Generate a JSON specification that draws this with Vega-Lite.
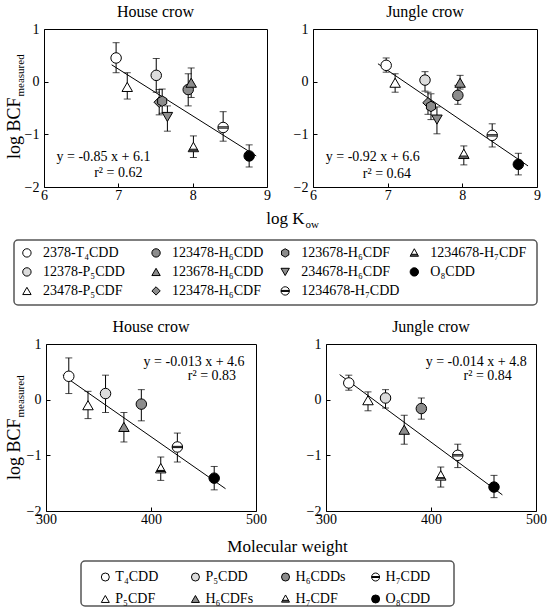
{
  "$schema": "https://vega.github.io/schema/vega-lite/v6.json",
  "padding": {"left": 4, "top": 3, "right": 0, "bottom": 0},
  "datasets": {
    "pts": [
      {"panel":"HK","sym":"a_open_circle","x":6.97,"y":0.45,"lo":0.17,"hi":0.74},
      {"panel":"HK","sym":"c_open_triangle","x":7.12,"y":-0.1,"lo":-0.33,"hi":0.17},
      {"panel":"HK","sym":"b_light_circle","x":7.51,"y":0.12,"lo":-0.2,"hi":0.44},
      {"panel":"HK","sym":"f_gray_diamond","x":7.55,"y":-0.39,"lo":-0.63,"hi":-0.15},
      {"panel":"HK","sym":"g_gray_hexagon","x":7.59,"y":-0.37,"lo":-0.6,"hi":-0.14},
      {"panel":"HK","sym":"h_gray_triangle_down","x":7.66,"y":-0.67,"lo":-0.94,"hi":-0.46},
      {"panel":"HK","sym":"d_gray_circle","x":7.94,"y":-0.15,"lo":-0.46,"hi":0.15},
      {"panel":"HK","sym":"e_gray_triangle","x":7.98,"y":-0.02,"lo":-0.3,"hi":0.26},
      {"panel":"HK","sym":"j_barred_triangle","x":8.01,"y":-1.25,"lo":-1.44,"hi":-1.03},
      {"panel":"HK","sym":"i_barred_circle","x":8.41,"y":-0.87,"lo":-1.13,"hi":-0.57},
      {"panel":"HK","sym":"k_black_circle","x":8.76,"y":-1.41,"lo":-1.62,"hi":-1.2},
      {"panel":"JK","sym":"a_open_circle","x":6.98,"y":0.31,"lo":0.18,"hi":0.45},
      {"panel":"JK","sym":"c_open_triangle","x":7.1,"y":-0.02,"lo":-0.2,"hi":0.15},
      {"panel":"JK","sym":"b_light_circle","x":7.5,"y":0.03,"lo":-0.18,"hi":0.19},
      {"panel":"JK","sym":"f_gray_diamond","x":7.54,"y":-0.4,"lo":-0.62,"hi":-0.2},
      {"panel":"JK","sym":"g_gray_hexagon","x":7.58,"y":-0.47,"lo":-0.72,"hi":-0.23},
      {"panel":"JK","sym":"h_gray_triangle_down","x":7.66,"y":-0.72,"lo":-0.99,"hi":-0.48},
      {"panel":"JK","sym":"d_gray_circle","x":7.94,"y":-0.26,"lo":-0.43,"hi":-0.07},
      {"panel":"JK","sym":"e_gray_triangle","x":7.97,"y":-0.02,"lo":-0.14,"hi":0.12},
      {"panel":"JK","sym":"j_barred_triangle","x":8.02,"y":-1.38,"lo":-1.58,"hi":-1.22},
      {"panel":"JK","sym":"i_barred_circle","x":8.4,"y":-1.02,"lo":-1.24,"hi":-0.8},
      {"panel":"JK","sym":"k_black_circle","x":8.75,"y":-1.57,"lo":-1.77,"hi":-1.36},
      {"panel":"HM","sym":"a_open_circle","x":321.7,"y":0.42,"lo":0.11,"hi":0.75},
      {"panel":"HM","sym":"c_open_triangle","x":340,"y":-0.1,"lo":-0.34,"hi":0.15},
      {"panel":"HM","sym":"b_light_circle","x":356.7,"y":0.11,"lo":-0.23,"hi":0.44},
      {"panel":"HM","sym":"e_gray_triangle","x":374.2,"y":-0.49,"lo":-0.76,"hi":-0.23},
      {"panel":"HM","sym":"d_gray_circle","x":390.8,"y":-0.08,"lo":-0.38,"hi":0.18},
      {"panel":"HM","sym":"j_barred_triangle","x":409.3,"y":-1.24,"lo":-1.45,"hi":-1.03},
      {"panel":"HM","sym":"i_barred_circle","x":425.1,"y":-0.85,"lo":-1.12,"hi":-0.6},
      {"panel":"HM","sym":"k_black_circle","x":460.2,"y":-1.41,"lo":-1.62,"hi":-1.2},
      {"panel":"JM","sym":"a_open_circle","x":321.7,"y":0.3,"lo":0.17,"hi":0.44},
      {"panel":"JM","sym":"c_open_triangle","x":340,"y":-0.01,"lo":-0.2,"hi":0.14},
      {"panel":"JM","sym":"b_light_circle","x":356.7,"y":0.03,"lo":-0.15,"hi":0.18},
      {"panel":"JM","sym":"e_gray_triangle","x":374.5,"y":-0.54,"lo":-0.8,"hi":-0.28},
      {"panel":"JM","sym":"d_gray_circle","x":390.8,"y":-0.16,"lo":-0.35,"hi":0.03},
      {"panel":"JM","sym":"j_barred_triangle","x":409.3,"y":-1.37,"lo":-1.57,"hi":-1.21},
      {"panel":"JM","sym":"i_barred_circle","x":425.5,"y":-1.0,"lo":-1.22,"hi":-0.8},
      {"panel":"JM","sym":"k_black_circle","x":460,"y":-1.57,"lo":-1.76,"hi":-1.36}
    ],
    "lines": [
      {"panel":"HK","x":6.91,"y":0.32},{"panel":"HK","x":8.855,"y":-1.41},
      {"panel":"JK","x":6.87,"y":0.34},{"panel":"JK","x":8.88,"y":-1.6},
      {"panel":"HM","x":316,"y":0.44},{"panel":"HM","x":471,"y":-1.6},
      {"panel":"JM","x":313,"y":0.45},{"panel":"JM","x":468,"y":-1.71}
    ],
    "eqs": [
      {"panel":"HK","x":6.8,"y":-1.43,"label":"y = -0.85 x + 6.1"},
      {"panel":"HK","x":7.0,"y":-1.74,"label":"r² = 0.62"},
      {"panel":"JK","x":6.8,"y":-1.43,"label":"y = -0.92 x + 6.6"},
      {"panel":"JK","x":6.99,"y":-1.76,"label":"r² = 0.64"},
      {"panel":"HM","x":441,"y":0.675,"label":"y = -0.013 x + 4.6"},
      {"panel":"HM","x":458,"y":0.42,"label":"r² = 0.83"},
      {"panel":"JM","x":443,"y":0.675,"label":"y = -0.014 x + 4.8"},
      {"panel":"JM","x":454,"y":0.42,"label":"r² = 0.84"}
    ],
    "leg1": [
      {"col":1,"row":1,"sym":"a_open_circle","label":"2378-T₄CDD"},
      {"col":1,"row":2,"sym":"b_light_circle","label":"12378-P₅CDD"},
      {"col":1,"row":3,"sym":"c_open_triangle","label":"23478-P₅CDF"},
      {"col":2,"row":1,"sym":"d_gray_circle","label":"123478-H₆CDD"},
      {"col":2,"row":2,"sym":"e_gray_triangle","label":"123678-H₆CDD"},
      {"col":2,"row":3,"sym":"f_gray_diamond","label":"123478-H₆CDF"},
      {"col":3,"row":1,"sym":"g_gray_hexagon","label":"123678-H₆CDF"},
      {"col":3,"row":2,"sym":"h_gray_triangle_down","label":"234678-H₆CDF"},
      {"col":3,"row":3,"sym":"i_barred_circle","label":"1234678-H₇CDD"},
      {"col":4,"row":1,"sym":"j_barred_triangle","label":"1234678-H₇CDF"},
      {"col":4,"row":2,"sym":"k_black_circle","label":"O₈CDD"}
    ],
    "leg2": [
      {"col":1,"row":1,"sym":"a_open_circle","label":"T₄CDD"},
      {"col":2,"row":1,"sym":"b_light_circle","label":"P₅CDD"},
      {"col":3,"row":1,"sym":"d_gray_circle","label":"H₆CDDs"},
      {"col":4,"row":1,"sym":"i_barred_circle","label":"H₇CDD"},
      {"col":1,"row":2,"sym":"c_open_triangle","label":"P₅CDF"},
      {"col":2,"row":2,"sym":"e_gray_triangle","label":"H₆CDFs"},
      {"col":3,"row":2,"sym":"j_barred_triangle","label":"H₇CDF"},
      {"col":4,"row":2,"sym":"k_black_circle","label":"O₈CDD"}
    ]
  },
  "config": {
    "font": "Liberation Serif",
    "view": {"stroke": "black", "strokeWidth": 1},
    "axis": {"grid": false, "domain": false, "tickColor": "black", "tickSize": -4, "labelFontSize": 14, "labelColor": "black", "labelFont": "Liberation Serif", "labelFlush": false, "labelOverlap": false, "titleFont": "Liberation Serif", "titleFontWeight": "normal", "titleColor": "black"},
    "axisX": {"labelPadding": 5},
    "axisY": {"labelPadding": 9},
    "title": {"font": "Liberation Serif", "fontSize": 16, "fontWeight": "normal", "color": "black", "offset": 2},
    "range": {
      "category": ["white", "#dcdcdc", "white", "#8c8c8c", "#8c8c8c", "#8c8c8c", "#8c8c8c", "#8c8c8c", "white", "white", "black"],
      "symbol": ["circle", "circle", "triangle-up", "circle", "triangle-up", "diamond", "M0,-1L0.866,-0.5L0.866,0.5L0,1L-0.866,0.5L-0.866,-0.5Z", "triangle-down", "M-1,0A1,1,0,1,1,1,0A1,1,0,1,1,-1,0ZM-0.99,-0.12L0.99,-0.12M-0.99,0.12L0.99,0.12", "M0,-1L1,0.8L-1,0.8ZM-0.74,0.33L0.74,0.33M-0.85,0.53L0.85,0.53", "circle"]
    }
  },
  "spacing": 12,
  "center": false,
  "vconcat": [
    {
      "spacing": 9,
      "center": false,
      "vconcat": [
        {
          "bounds": "flush",
          "spacing": 29,
          "hconcat": [
            {"width": 1, "height": 1, "view": {"stroke": null}, "data": {"values": []}, "mark": "point"},
            {
              "bounds": "flush",
              "spacing": 46,
              "hconcat": [
                {
                  "width": 223, "height": 158,
                  "title": "House crow",
                  "resolve": {"axis": {"x": "independent", "y": "independent"}},
                  "layer": [
                    {"data": {"name": "lines"}, "transform": [{"filter": "datum.panel === 'HK'"}],
                     "mark": {"type": "line", "color": "black", "strokeWidth": 1},
                     "encoding": {
                       "x": {"field": "x", "type": "quantitative", "scale": {"domain": [6, 9], "nice": false, "zero": false},
                             "axis": {"values": [6, 7, 8, 9], "format": "d", "title": "log K", "titleFontSize": 17, "titleX": 260, "titleY": 36, "titleAlign": "right", "titleBaseline": "alphabetic"}},
                       "y": {"field": "y", "type": "quantitative", "scale": {"domain": [-2, 1], "nice": false, "zero": false},
                             "axis": {"values": [-2, -1, 0, 1], "format": "d", "title": "log BCF", "titleFontSize": 18, "titleAngle": 270, "titleX": -25, "titleY": 68, "titleAlign": "right", "titleBaseline": "alphabetic"}}
                     }},
                    {"data": {"name": "pts"}, "transform": [{"filter": "datum.panel === 'HK'"}],
                     "mark": {"type": "errorbar", "ticks": {"size": 7}, "color": "black", "thickness": 1},
                     "encoding": {
                       "x": {"field": "x", "type": "quantitative", "scale": {"domain": [6, 9], "nice": false, "zero": false}, "axis": null},
                       "y": {"field": "lo", "type": "quantitative", "scale": {"domain": [-2, 1], "nice": false, "zero": false}, "axis": null},
                       "y2": {"field": "hi"}
                     }},
                    {"data": {"name": "pts"}, "transform": [{"filter": "datum.panel === 'HK'"}],
                     "mark": {"type": "point", "filled": true, "stroke": "black", "strokeWidth": 1, "size": 110, "opacity": 1},
                     "encoding": {
                       "x": {"field": "x", "type": "quantitative", "scale": {"domain": [6, 9], "nice": false, "zero": false}, "axis": null},
                       "y": {"field": "y", "type": "quantitative", "scale": {"domain": [-2, 1], "nice": false, "zero": false}, "axis": null},
                       "shape": {"field": "sym", "type": "nominal", "legend": null},
                       "fill": {"field": "sym", "type": "nominal", "legend": null}
                     }},
                    {"data": {"name": "eqs"}, "transform": [{"filter": "datum.panel === 'HK'"}],
                     "mark": {"type": "text", "fontSize": 14, "font": "Liberation Serif", "color": "black"},
                     "encoding": {
                       "x": {"field": "x", "type": "quantitative", "scale": {"domain": [6, 9], "nice": false, "zero": false}, "axis": null},
                       "y": {"field": "y", "type": "quantitative", "scale": {"domain": [-2, 1], "nice": false, "zero": false}, "axis": null},
                       "text": {"field": "label"}
                     }},
                    {"data": {"name": "lines"}, "transform": [{"filter": "datum.panel === 'HK'"}],
                     "mark": {"type": "line", "opacity": 0},
                     "encoding": {
                       "x": {"field": "x", "type": "quantitative", "scale": {"domain": [6, 9], "nice": false, "zero": false},
                             "axis": {"orient": "bottom", "title": "ow", "labels": false, "ticks": false, "titleFontSize": 11, "titleX": 261, "titleY": 40, "titleAlign": "left", "titleBaseline": "alphabetic"}},
                       "y": {"field": "y", "type": "quantitative", "scale": {"domain": [-2, 1], "nice": false, "zero": false},
                             "axis": {"orient": "left", "title": "measured", "labels": false, "ticks": false, "titleFontSize": 11, "titleAngle": 270, "titleX": -21, "titleY": 67, "titleAlign": "left", "titleBaseline": "alphabetic"}}
                     }}
                  ]
                },
                {
                  "width": 224, "height": 158,
                  "title": "Jungle crow",
                  "layer": [
                    {"data": {"name": "lines"}, "transform": [{"filter": "datum.panel === 'JK'"}],
                     "mark": {"type": "line", "color": "black", "strokeWidth": 1},
                     "encoding": {
                       "x": {"field": "x", "type": "quantitative", "scale": {"domain": [6, 9], "nice": false, "zero": false}, "axis": {"values": [6, 7, 8, 9], "format": "d", "title": null}},
                       "y": {"field": "y", "type": "quantitative", "scale": {"domain": [-2, 1], "nice": false, "zero": false}, "axis": {"values": [-2, -1, 0, 1], "format": "d", "title": null}}
                     }},
                    {"data": {"name": "pts"}, "transform": [{"filter": "datum.panel === 'JK'"}],
                     "mark": {"type": "errorbar", "ticks": {"size": 7}, "color": "black", "thickness": 1},
                     "encoding": {
                       "x": {"field": "x", "type": "quantitative", "scale": {"domain": [6, 9], "nice": false, "zero": false}},
                       "y": {"field": "lo", "type": "quantitative", "scale": {"domain": [-2, 1], "nice": false, "zero": false}},
                       "y2": {"field": "hi"}
                     }},
                    {"data": {"name": "pts"}, "transform": [{"filter": "datum.panel === 'JK'"}],
                     "mark": {"type": "point", "filled": true, "stroke": "black", "strokeWidth": 1, "size": 110, "opacity": 1},
                     "encoding": {
                       "x": {"field": "x", "type": "quantitative", "scale": {"domain": [6, 9], "nice": false, "zero": false}},
                       "y": {"field": "y", "type": "quantitative", "scale": {"domain": [-2, 1], "nice": false, "zero": false}},
                       "shape": {"field": "sym", "type": "nominal", "legend": null},
                       "fill": {"field": "sym", "type": "nominal", "legend": null}
                     }},
                    {"data": {"name": "eqs"}, "transform": [{"filter": "datum.panel === 'JK'"}],
                     "mark": {"type": "text", "fontSize": 14, "font": "Liberation Serif", "color": "black"},
                     "encoding": {
                       "x": {"field": "x", "type": "quantitative", "scale": {"domain": [6, 9], "nice": false, "zero": false}},
                       "y": {"field": "y", "type": "quantitative", "scale": {"domain": [-2, 1], "nice": false, "zero": false}},
                       "text": {"field": "label"}
                     }}
                  ]
                }
              ]
            }
          ]
        },
        {
          "width": 523, "height": 65,
          "data": {"name": "leg1"},
          "view": {"stroke": "#555555", "strokeWidth": 1.5, "cornerRadius": 4},
          "encoding": {
            "x": {"field": "col", "type": "quantitative", "scale": {"domain": [0.9, 4.95], "nice": false, "zero": false}, "axis": null},
            "y": {"field": "row", "type": "quantitative", "scale": {"domain": [0.32, 3.74], "nice": false, "zero": false, "reverse": true}, "axis": null}
          },
          "layer": [
            {"mark": {"type": "point", "filled": true, "stroke": "black", "strokeWidth": 1, "size": 70, "opacity": 1},
             "encoding": {"shape": {"field": "sym", "type": "nominal", "legend": null}, "fill": {"field": "sym", "type": "nominal", "legend": null}}},
            {"mark": {"type": "text", "align": "left", "dx": 16, "fontSize": 14, "font": "Liberation Serif", "color": "black"},
             "encoding": {"text": {"field": "label"}}}
          ]
        }
      ]
    },
    {
      "spacing": 5,
      "center": false,
      "vconcat": [
        {
          "bounds": "flush",
          "spacing": 31,
          "hconcat": [
            {"width": 1, "height": 1, "view": {"stroke": null}, "data": {"values": []}, "mark": "point"},
            {
              "bounds": "flush",
              "spacing": 70,
              "hconcat": [
                {
                  "width": 210, "height": 167,
                  "title": "House crow",
                  "resolve": {"axis": {"x": "independent", "y": "independent"}},
                  "layer": [
                    {"data": {"name": "lines"}, "transform": [{"filter": "datum.panel === 'HM'"}],
                     "mark": {"type": "line", "color": "black", "strokeWidth": 1},
                     "encoding": {
                       "x": {"field": "x", "type": "quantitative", "scale": {"domain": [300, 500], "nice": false, "zero": false},
                             "axis": {"values": [300, 400, 500], "format": "d", "title": "Molecular weight", "titleFontSize": 17, "titleX": 241, "titleY": 40, "titleAlign": "center", "titleBaseline": "alphabetic"}},
                       "y": {"field": "y", "type": "quantitative", "scale": {"domain": [-2, 1], "nice": false, "zero": false},
                             "axis": {"values": [-2, -1, 0, 1], "format": "d", "title": "log BCF", "titleFontSize": 18, "titleAngle": 270, "titleX": -27, "titleY": 74, "titleAlign": "right", "titleBaseline": "alphabetic"}}
                     }},
                    {"data": {"name": "pts"}, "transform": [{"filter": "datum.panel === 'HM'"}],
                     "mark": {"type": "errorbar", "ticks": {"size": 7}, "color": "black", "thickness": 1},
                     "encoding": {
                       "x": {"field": "x", "type": "quantitative", "scale": {"domain": [300, 500], "nice": false, "zero": false}, "axis": null},
                       "y": {"field": "lo", "type": "quantitative", "scale": {"domain": [-2, 1], "nice": false, "zero": false}, "axis": null},
                       "y2": {"field": "hi"}
                     }},
                    {"data": {"name": "pts"}, "transform": [{"filter": "datum.panel === 'HM'"}],
                     "mark": {"type": "point", "filled": true, "stroke": "black", "strokeWidth": 1, "size": 110, "opacity": 1},
                     "encoding": {
                       "x": {"field": "x", "type": "quantitative", "scale": {"domain": [300, 500], "nice": false, "zero": false}, "axis": null},
                       "y": {"field": "y", "type": "quantitative", "scale": {"domain": [-2, 1], "nice": false, "zero": false}, "axis": null},
                       "shape": {"field": "sym", "type": "nominal", "legend": null},
                       "fill": {"field": "sym", "type": "nominal", "legend": null}
                     }},
                    {"data": {"name": "eqs"}, "transform": [{"filter": "datum.panel === 'HM'"}],
                     "mark": {"type": "text", "fontSize": 14, "font": "Liberation Serif", "color": "black"},
                     "encoding": {
                       "x": {"field": "x", "type": "quantitative", "scale": {"domain": [300, 500], "nice": false, "zero": false}, "axis": null},
                       "y": {"field": "y", "type": "quantitative", "scale": {"domain": [-2, 1], "nice": false, "zero": false}, "axis": null},
                       "text": {"field": "label"}
                     }},
                    {"data": {"name": "lines"}, "transform": [{"filter": "datum.panel === 'HM'"}],
                     "mark": {"type": "line", "opacity": 0},
                     "encoding": {
                       "x": {"field": "x", "type": "quantitative", "scale": {"domain": [300, 500], "nice": false, "zero": false}, "axis": null},
                       "y": {"field": "y", "type": "quantitative", "scale": {"domain": [-2, 1], "nice": false, "zero": false},
                             "axis": {"orient": "left", "title": "measured", "labels": false, "ticks": false, "titleFontSize": 11, "titleAngle": 270, "titleX": -23, "titleY": 73, "titleAlign": "left", "titleBaseline": "alphabetic"}}
                     }}
                  ]
                },
                {
                  "width": 210, "height": 167,
                  "title": "Jungle crow",
                  "layer": [
                    {"data": {"name": "lines"}, "transform": [{"filter": "datum.panel === 'JM'"}],
                     "mark": {"type": "line", "color": "black", "strokeWidth": 1},
                     "encoding": {
                       "x": {"field": "x", "type": "quantitative", "scale": {"domain": [300, 500], "nice": false, "zero": false}, "axis": {"values": [300, 400, 500], "format": "d", "title": null}},
                       "y": {"field": "y", "type": "quantitative", "scale": {"domain": [-2, 1], "nice": false, "zero": false}, "axis": {"values": [-2, -1, 0, 1], "format": "d", "title": null}}
                     }},
                    {"data": {"name": "pts"}, "transform": [{"filter": "datum.panel === 'JM'"}],
                     "mark": {"type": "errorbar", "ticks": {"size": 7}, "color": "black", "thickness": 1},
                     "encoding": {
                       "x": {"field": "x", "type": "quantitative", "scale": {"domain": [300, 500], "nice": false, "zero": false}},
                       "y": {"field": "lo", "type": "quantitative", "scale": {"domain": [-2, 1], "nice": false, "zero": false}},
                       "y2": {"field": "hi"}
                     }},
                    {"data": {"name": "pts"}, "transform": [{"filter": "datum.panel === 'JM'"}],
                     "mark": {"type": "point", "filled": true, "stroke": "black", "strokeWidth": 1, "size": 110, "opacity": 1},
                     "encoding": {
                       "x": {"field": "x", "type": "quantitative", "scale": {"domain": [300, 500], "nice": false, "zero": false}},
                       "y": {"field": "y", "type": "quantitative", "scale": {"domain": [-2, 1], "nice": false, "zero": false}},
                       "shape": {"field": "sym", "type": "nominal", "legend": null},
                       "fill": {"field": "sym", "type": "nominal", "legend": null}
                     }},
                    {"data": {"name": "eqs"}, "transform": [{"filter": "datum.panel === 'JM'"}],
                     "mark": {"type": "text", "fontSize": 14, "font": "Liberation Serif", "color": "black"},
                     "encoding": {
                       "x": {"field": "x", "type": "quantitative", "scale": {"domain": [300, 500], "nice": false, "zero": false}},
                       "y": {"field": "y", "type": "quantitative", "scale": {"domain": [-2, 1], "nice": false, "zero": false}},
                       "text": {"field": "label"}
                     }}
                  ]
                }
              ]
            }
          ]
        },
        {
          "bounds": "flush",
          "spacing": 66,
          "hconcat": [
            {"width": 1, "height": 1, "view": {"stroke": null}, "data": {"values": []}, "mark": "point"},
            {
              "width": 373, "height": 45,
              "data": {"name": "leg2"},
              "view": {"stroke": "#555555", "strokeWidth": 1.5, "cornerRadius": 4},
              "encoding": {
                "x": {"field": "col", "type": "quantitative", "scale": {"domain": [0.73, 4.87], "nice": false, "zero": false}, "axis": null},
                "y": {"field": "row", "type": "quantitative", "scale": {"domain": [0.27, 2.32], "nice": false, "zero": false, "reverse": true}, "axis": null}
              },
              "layer": [
                {"mark": {"type": "point", "filled": true, "stroke": "black", "strokeWidth": 1, "size": 64, "opacity": 1},
                 "encoding": {"shape": {"field": "sym", "type": "nominal", "legend": null}, "fill": {"field": "sym", "type": "nominal", "legend": null}}},
                {"mark": {"type": "text", "align": "left", "dx": 10, "fontSize": 14, "font": "Liberation Serif", "color": "black"},
                 "encoding": {"text": {"field": "label"}}}
              ]
            }
          ]
        }
      ]
    }
  ]
}
